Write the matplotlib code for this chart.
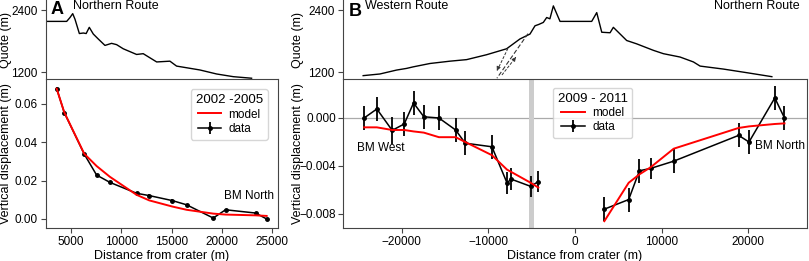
import matplotlib
matplotlib.use('Agg')
import matplotlib.pyplot as plt

plt.rcParams['font.family'] = ['Liberation Sans', 'DejaVu Sans']
plt.rcParams['font.size'] = 8.5

# ---- panel A : northern route 2002-2005 ----
a_dist = [3560, 4320, 6310, 7540, 8860, 11520, 12780, 15070, 16500, 19150, 20380, 23370, 24470]
a_data = [0.068, 0.0555, 0.0338, 0.0229, 0.0191, 0.0134, 0.0122, 0.0096, 0.0074, 0.0005, 0.0048, 0.0031, 0.0]
a_err = [0.0006] * 13
a_model = [0.068, 0.0556, 0.034, 0.0276, 0.022, 0.0126, 0.0097, 0.0065, 0.0048, 0.0028, 0.0023, 0.0019, 0.0016]

a_prof_x = [2570, 4560, 4890, 5160, 5390, 5820, 6220, 6500, 6810, 7210, 7700, 8370, 9030, 9530,
            10190, 11520, 12180, 13520, 14840, 15500, 17820, 19490, 21150, 22970]
a_prof_z = [2180, 2180, 2255, 2330, 2220, 1945, 1955, 1945, 2065, 1935, 1840, 1715, 1755, 1730,
            1650, 1540, 1555, 1395, 1410, 1315, 1240, 1162, 1110, 1080]

# ---- panel B : 2009-2011 ----
w_dist = [-24360, -22890, -21120, -19730, -18650, -17460, -15720, -13790, -12680, -9600, -7860, -7360, -5120, -4240]
w_data = [0.0, 0.00075, -0.00103, -0.0005, 0.00125, 0.0001, 0.0, -0.001, -0.0021, -0.0024, -0.0054, -0.0051, -0.0057, -0.0053]
w_err = [0.001, 0.001, 0.0011, 0.001, 0.001, 0.001, 0.001, 0.001, 0.001, 0.001, 0.0009, 0.0009, 0.0009, 0.0009]
w_model = [-0.00078, -0.00078, -0.001, -0.001, -0.00112, -0.00122, -0.0016, -0.0016, -0.002, -0.0031, -0.0043, -0.0045, -0.0054, -0.0058]

n_dist = [3390, 6200, 7440, 8750, 11400, 18900, 20100, 23080, 24200]
n_data = [-0.0076, -0.0068, -0.0044, -0.0042, -0.0036, -0.00145, -0.002, 0.00167, 0.0]
n_err = [0.001, 0.001, 0.001, 0.0009, 0.001, 0.001, 0.001, 0.001, 0.001]
n_model = [-0.0086, -0.0054, -0.0047, -0.0041, -0.00256, -0.00083, -0.0007, -0.0005, -0.00045]

b_prof_x = [-24470, -22540, -20610, -19460, -18690, -16760, -14450, -12520, -10210, -7900, -6360,
            -5200, -4620, -4200, -3660, -3270, -2900, -2500, -1730, 0, 1930, 2510, 3090, 4050, 4430, 5970,
            7130, 9050, 10210, 12140, 13680, 14450, 17150, 19850, 22740]
b_prof_z = [1130, 1162, 1238, 1270, 1300, 1365, 1410, 1440, 1535, 1650, 1840,
            1935, 2095, 2120, 2160, 2255, 2230, 2480, 2180, 2180, 2180, 2350, 1970, 1960, 2065, 1810,
            1745, 1620, 1555, 1490, 1395, 1315, 1257, 1187, 1110]

W, H = 809, 261
fig = plt.figure(figsize=(W / 100, H / 100), dpi=100)
spine_col = '#444444'


def box(l, r, t, b):
    return [l / W, (H - b) / H, (r - l) / W, (b - t) / H]


def style(ax):
    for s in ax.spines.values():
        s.set_color(spine_col)
    ax.tick_params(length=3.5, color=spine_col, labelsize=8.5, pad=2.5)


def profile(ax, x, z, xlim):
    ax.plot(x, z, color='black', lw=1.0)
    ax.set_xlim(xlim)
    ax.set_ylim(1065, 2594)
    ax.set_yticks([1200, 2400])
    ax.set_xticks([])
    for s in ['top', 'right', 'bottom']:
        ax.spines[s].set_visible(False)
    style(ax)
    ax.set_ylabel('Quote (m)', fontsize=9)
    ax.patch.set_alpha(0)


def data_line(ax, x, y, e, lab=None):
    return ax.errorbar(x, y, yerr=e, color='black', lw=1.1, elinewidth=1.3,
                       marker='o', ms=2.5, capsize=0, label=lab)


leg_kw = dict(fontsize=8.5, title_fontsize=9.5, handletextpad=0.6, borderpad=0.4,
              labelspacing=0.2, borderaxespad=0, edgecolor='#cccccc')

# panel A
axA = fig.add_axes(box(46, 278, 79, 228))
axA_top = fig.add_axes(box(46, 278, 0, 79))
xlimA = (2500, 25600)
profile(axA_top, a_prof_x, a_prof_z, xlimA)
axA_top.text(0.02, 0.99, 'A', transform=axA_top.transAxes, fontsize=13, fontweight='bold', va='top')
axA_top.text(0.115, 1.0, 'Northern Route', transform=axA_top.transAxes, fontsize=9, va='top')

axA.plot(a_dist, a_model, color='red', lw=1.4, label='model', zorder=3)
data_line(axA, a_dist, a_data, a_err, 'data')
axA.set_xlim(xlimA)
axA.set_ylim(-0.0047, 0.073)
axA.set_xticks([5000, 10000, 15000, 20000, 25000])
axA.set_yticks([0.0, 0.02, 0.04, 0.06])
axA.set_yticklabels(['0.00', '0.02', '0.04', '0.06'])
axA.set_xlabel('Distance from crater (m)', fontsize=9, labelpad=1)
axA.set_ylabel('Vertical displacement (m)', fontsize=9)
axA.yaxis.set_label_coords(-0.145, 0.5)
axA_top.yaxis.set_label_coords(-0.145, 0.5)
axA.text(22700, 0.012, 'BM North', ha='center', va='center', fontsize=8.5)
style(axA)
axA.legend(title='2002 -2005', loc='upper right', bbox_to_anchor=(0.955, 0.93), **leg_kw)

# panel B
axB = fig.add_axes(box(343, 807, 79, 228))
axB_top = fig.add_axes(box(343, 807, 0, 79))
xlimB = (-26800, 26800)
profile(axB_top, b_prof_x, b_prof_z, xlimB)
axB_top.text(0.012, 0.96, 'B', transform=axB_top.transAxes, fontsize=13, fontweight='bold', va='top')
axB_top.text(0.048, 1.0, 'Western Route', transform=axB_top.transAxes, fontsize=9, va='top')
axB_top.text(0.985, 1.0, 'Northern Route', transform=axB_top.transAxes, fontsize=9, va='top', ha='right')
# fault symbol: dashed trace with two opposite dashed arrows
axB_top.plot([-5430, -9020], [1943, 1080], color='#333333', lw=0.8, ls=(0, (4, 2)))
axB_top.plot([-7750, -8900], [1657, 1260], color='#333333', lw=0.7, ls=(0, (3, 1.5)))
axB_top.plot([-8440, -7000], [1143, 1450], color='#333333', lw=0.7, ls=(0, (3, 1.5)))
axB_top.annotate('', xy=(-9020, 1225), xytext=(-8850, 1290),
                 arrowprops=dict(arrowstyle='-|>', lw=0.6, color='#333333', mutation_scale=6))
axB_top.annotate('', xy=(-6820, 1490), xytext=(-7050, 1440),
                 arrowprops=dict(arrowstyle='-|>', lw=0.6, color='#333333', mutation_scale=6))

axB.axhline(0, color='#aaaaaa', lw=0.9, zorder=0)
axB.axvspan(-5300, -4700, color='#cccccc', lw=0, zorder=0)
axB.plot(w_dist, w_model, color='red', lw=1.4, label='model', zorder=3)
axB.plot(n_dist, n_model, color='red', lw=1.4, zorder=3)
data_line(axB, w_dist, w_data, w_err, 'data')
data_line(axB, n_dist, n_data, n_err)
axB.set_xlim(xlimB)
axB.set_ylim(-0.00917, 0.00325)
axB.set_xticks([-20000, -10000, 0, 10000, 20000])
axB.set_yticks([0.0, -0.004, -0.008])
axB.set_yticklabels(['0.000', '\u22120.004', '\u22120.008'])
axB.tick_params(axis='y', pad=1.5)
axB.set_xlabel('Distance from crater (m)', fontsize=9, labelpad=1)
axB.set_ylabel('Vertical displacement (m)', fontsize=9)
axB.yaxis.set_label_coords(-0.083, 0.5)
axB_top.yaxis.set_label_coords(-0.083, 0.5)
axB.text(-22490, -0.00248, 'BM West', ha='center', va='center', fontsize=8.5)
axB.text(23700, -0.00236, 'BM North', ha='center', va='center', fontsize=8.5)
style(axB)
axB.tick_params(axis='y', pad=1.5)
axB.legend(title='2009 - 2011', loc='upper left', bbox_to_anchor=(0.4526, 0.94), **leg_kw)

fig.savefig('out.png', dpi=100)
